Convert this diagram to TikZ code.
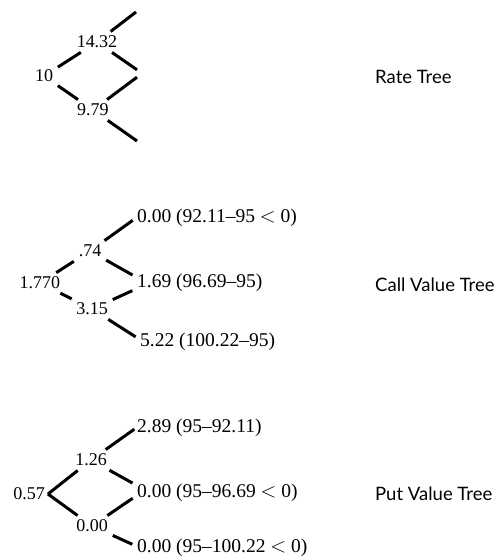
\documentclass[tikz,border=0pt]{standalone}
\usepackage{fontspec}
\setmainfont{Liberation Serif}
\newfontfamily\labelfont{Lato}
\usetikzlibrary{positioning}

\tikzset{
  num/.style={inner sep=3pt, font=\fontsize{18}{20}\selectfont},
  leaf/.style={num, anchor=west, inner sep=1pt, font=\fontsize{19.5}{21}\selectfont},
  treelabel/.style={anchor=west, inner sep=0pt, font=\labelfont\fontsize{18.5}{20}\selectfont},
  branch/.style={line width=3pt, shorten <=2pt, shorten >=2pt},
  toleaf/.style={branch, shorten >=4pt}
}

\begin{document}
\begin{tikzpicture}[x=1pt, y=-1pt]
\useasboundingbox (0,0) rectangle (504,558);

% rate tree
\node[num] (r0) at (44,76) {10};
\node[num] (ru) at (97,42) {14.32};
\node[num] (rd) at (93,110) {9.79};
\coordinate (ruu) at (136,12);
\node[inner sep=0pt, minimum height=7pt, minimum width=0pt] (rm) at (137,73.5) {};
\coordinate (rdd) at (137,141);
\draw[branch] (r0) -- (ru);
\draw[branch] (r0) -- (rd);
\draw[branch, shorten >=0pt] (ru) -- (ruu);
\draw[branch, shorten >=0pt] (ru) -- (rm.north);
\draw[branch, shorten >=0pt] (rd) -- (rm.south);
\draw[branch, shorten >=0pt] (rd) -- (rdd);
\node[treelabel] (rlab) at (375,77) {Rate Tree};

% call value tree
\node[num] (c0) at (40,283) {1.770};
\node[num] (cu) at (90,251) {.74};
\node[num] (cd) at (92,309) {3.15};
\node[leaf] (cuu) at (136,218) {0.00 (92.11--95 $<$ 0)};
\node[leaf] (cud) at (136,283) {1.69 (96.69--95)};
\node[leaf] (cdd) at (139,342) {5.22 (100.22--95)};
\draw[branch] (c0) -- (cu);
\draw[branch] (c0) -- (cd);
\draw[toleaf] (cu) -- (cuu.west);
\draw[toleaf] (cu) -- ([yshift=6pt]cud.west);
\draw[toleaf] (cd) -- ([yshift=-6pt]cud.west);
\draw[toleaf] (cd) -- ([yshift=3pt]cdd.west);
\node[treelabel] (clab) at (375,285) {Call Value Tree};

% put value tree
\node[num] (p0) at (29,494) {0.57};
\node[num] (pu) at (91,460) {1.26};
\node[num] (pd) at (92,526) {0.00};
\node[leaf] (puu) at (136,428) {2.89 (95--92.11)};
\node[leaf] (pud) at (136,493) {0.00 (95--96.69 $<$ 0)};
\node[leaf] (pdd) at (136,548) {0.00 (95--100.22 $<$ 0)};
\draw[branch, shorten <=0pt] (p0.east) -- (pu);
\draw[branch, shorten <=0pt] (p0.east) -- (pd);
\draw[toleaf, shorten >=2pt] (pu) -- (puu.west);
\draw[toleaf] (pu) -- ([yshift=8pt]pud.west);
\draw[toleaf] (pd) -- ([yshift=-3pt]pud.west);
\draw[toleaf] (pd) -- ([yshift=2pt]pdd.west);
\node[treelabel] (plab) at (375,494) {Put Value Tree};
\end{tikzpicture}
\end{document}
